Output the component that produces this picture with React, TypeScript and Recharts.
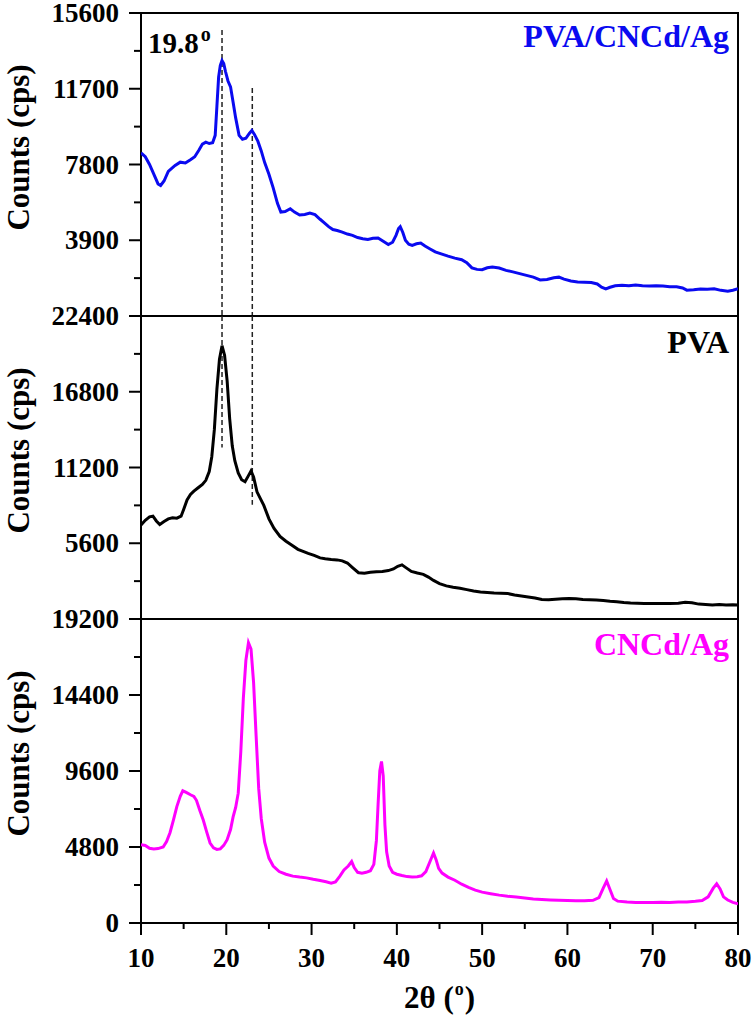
import { LineChart, Line, XAxis, YAxis, ReferenceArea, ReferenceLine, Label } from 'recharts'

const serif = '"Liberation Serif", "Times New Roman", serif'

// PVA/CNCd/Ag (top panel)
const compAngles = [
  10, 10.5, 11, 11.5, 12, 12.3, 12.7, 13.2, 13.6, 14, 14.6, 15.2, 15.8, 16.3, 16.8, 17.2, 17.6, 18, 18.4, 18.7,
  18.9, 19.1, 19.3, 19.5, 19.7, 19.9, 20.2, 20.5, 20.8, 21.1, 21.5, 21.9, 22.3, 22.7, 23, 23.3, 23.7, 24.1, 24.5,
  25, 25.5, 26, 26.4, 26.9, 27.5, 28, 28.6, 29.2, 29.8, 30.4, 31, 31.5, 32, 32.5, 33, 33.6, 34.2, 34.8, 35.4, 36,
  36.6, 37.2, 37.8, 38.4, 39, 39.5, 39.9, 40.2, 40.4, 40.7, 41, 41.4, 41.8, 42.3, 42.8, 43.3, 43.9, 44.5, 45.2, 46,
  46.8, 47.6, 48.2, 48.8, 49.4, 50, 50.6, 51.2, 52, 52.8, 53.6, 54.4, 55.2, 56, 56.8, 57.6, 58.4, 59, 59.6, 60.4,
  61.2, 62, 62.8, 63.5, 64, 64.5, 65, 65.6, 66.4, 67.2, 68, 68.8, 69.6, 70.4, 71.2, 72, 72.8, 73.5, 74, 74.8, 75.6,
  76.4, 77.2, 78, 78.8, 79.4, 80,
]
const compCounts = [
  8400, 8200, 7800, 7300, 6800, 6720, 6950, 7450, 7600, 7750, 7920, 7880, 8050, 8200, 8550, 8850, 8950, 8880, 8920, 9300,
  10800, 12300, 12900, 13150, 13000, 12600, 12100, 11800, 11000, 10200, 9300, 9100, 9150, 9400, 9550, 9350, 9000, 8500, 7900,
  7300, 6600, 5800, 5350, 5380, 5520, 5350, 5200, 5230, 5300, 5220, 4980, 4800, 4600, 4450, 4400, 4320, 4220, 4150, 4040, 3980,
  3940, 4000, 4020, 3850, 3680, 3800, 4150, 4500, 4600, 4300, 3900, 3700, 3640, 3720, 3760, 3600, 3450, 3300, 3200, 3080,
  2980, 2900, 2750, 2480, 2400, 2380, 2480, 2520, 2470, 2350, 2270, 2180, 2090, 2000, 1860, 1880, 1970, 2000, 1900, 1800,
  1750, 1740, 1720, 1650, 1480, 1400, 1480, 1560, 1580, 1560, 1590, 1560, 1550, 1560, 1540, 1510, 1500, 1440, 1330, 1350, 1390,
  1380, 1400, 1320, 1280, 1330, 1400,
]

// PVA (middle panel)
const pvaAngles = [
  10, 10.5, 11, 11.4, 11.8, 12.2, 12.7, 13.2, 13.7, 14.2, 14.7, 15, 15.4, 15.8, 16.2, 16.7, 17.2, 17.6, 18, 18.3,
  18.6, 18.9, 19.2, 19.5, 19.8, 20.1, 20.4, 20.7, 21, 21.4, 21.8, 22.2, 22.6, 22.9, 23.2, 23.6, 24, 24.4, 25, 25.6,
  26.3, 27, 27.7, 28.4, 29, 29.6, 30.3, 31, 31.6, 32.3, 33, 33.6, 34.2, 34.8, 35.5, 36.2, 36.9, 37.6, 38.3, 39, 39.6,
  40.1, 40.6, 41.1, 41.7, 42.4, 43.1, 43.7, 44.3, 45, 45.8, 46.6, 47.4, 48.2, 49, 49.8, 50.6, 51.4, 52.2, 53, 53.8,
  54.6, 55.4, 56.2, 57, 57.8, 58.6, 59.4, 60.2, 61, 61.8, 62.6, 63.4, 64.2, 65, 65.8, 66.6, 67.4, 68.2, 69, 70, 71,
  72, 73, 73.8, 74.6, 75.4, 76.2, 77, 77.8, 78.6, 79.4, 80,
]
const pvaCounts = [
  6950, 7300, 7550, 7600, 7250, 6980, 7200, 7400, 7480, 7450, 7600, 8100, 8800, 9200, 9450, 9700, 9950, 10250, 10900, 12000,
  14000, 17000, 19200, 20200, 19500, 17600, 14800, 12800, 11700, 10800, 10300, 10150, 10600, 10950, 10500, 9400, 8900, 8400, 7400, 6700,
  6100, 5750, 5450, 5150, 5000, 4850, 4700, 4520, 4450, 4400, 4370, 4300, 4140, 3800, 3420, 3380, 3450, 3500, 3520, 3580, 3700,
  3900, 4000, 3780, 3520, 3400, 3300, 3100, 2850, 2620, 2450, 2350, 2270, 2170, 2070, 2000, 1960, 1920, 1900, 1880, 1780,
  1700, 1630, 1550, 1450, 1420, 1460, 1500, 1520, 1490, 1440, 1420, 1400, 1360, 1310, 1280, 1220, 1180, 1160, 1150, 1150, 1140,
  1150, 1170, 1230, 1200, 1100, 1080, 1040, 1080, 1030, 1050, 1040,
]

// CNCd/Ag (bottom panel)
const cncAngles = [
  10, 10.5, 11, 11.5, 12, 12.6, 13, 13.4, 13.8, 14.2, 14.6, 14.9, 15.3, 15.8, 16.2, 16.5, 16.9, 17.3, 17.7, 18.1,
  18.5, 18.9, 19.3, 19.7, 20.1, 20.5, 20.8, 21.1, 21.4, 21.7, 22, 22.3, 22.6, 22.9, 23.2, 23.5, 23.8, 24.1, 24.5, 25,
  25.5, 26.2, 27, 27.8, 28.6, 29.4, 30.2, 31, 31.7, 32.3, 32.8, 33.3, 33.8, 34.3, 34.7, 35, 35.4, 35.9, 36.4, 36.9,
  37.3, 37.6, 37.8, 38, 38.2, 38.4, 38.6, 38.8, 39.1, 39.5, 40, 40.6, 41.2, 41.8, 42.4, 42.9, 43.4, 43.9, 44.3, 44.6,
  44.9, 45.3, 46, 46.8, 47.6, 48.4, 49.2, 50, 51, 52, 53, 54, 55, 56, 57, 58, 59, 60, 61, 62, 63, 63.7, 64.2, 64.6,
  65, 65.4, 65.9, 67, 68, 69, 70, 71, 72, 73, 74, 75, 75.8, 76.5, 77.1, 77.5, 77.9, 78.3, 78.8, 79.4, 80,
]
const cncCounts = [
  4950, 4900, 4720, 4680, 4700, 4800, 5150, 5700, 6500, 7350, 8000, 8350, 8250, 8100, 8000, 7750, 7100, 6500, 5750, 5050,
  4750, 4650, 4680, 4900, 5260, 5900, 6700, 7300, 8200, 10800, 14200, 16600, 17700, 17300, 15200, 11800, 8500, 6600, 5100, 4100,
  3600, 3250, 3080, 2960, 2900, 2850, 2760, 2680, 2600, 2520, 2600, 2950, 3350, 3600, 3880, 3500, 3200, 3150, 3200, 3300,
  3700, 5200, 7500, 9600, 10200, 9300, 6200, 4500, 3600, 3200, 3080, 3000, 2930, 2900, 2920, 2980, 3250, 3900, 4420, 4000,
  3450, 3150, 2900, 2700, 2450, 2250, 2080, 1950, 1850, 1760, 1690, 1640, 1580, 1520, 1480, 1450, 1430, 1420, 1410, 1400, 1430, 1600, 2200, 2650,
  2100, 1550, 1380, 1320, 1300, 1300, 1300, 1310, 1300, 1320, 1330, 1370, 1420, 1650, 2200, 2480, 2150, 1650, 1450, 1300, 1220,
]

const xTicks = [10, 15, 20, 25, 30, 35, 40, 45, 50, 55, 60, 65, 70, 75, 80]
const compTicks = [0, 1950, 3900, 5850, 7800, 9750, 11700, 13650, 15600]
const pvaTicks = [0, 2800, 5600, 8400, 11200, 14000, 16800, 19600, 22400]
const cncTicks = [0, 2400, 4800, 7200, 9600, 12000, 14400, 16800, 19200]

// dashed guides at 19.8° and the 23° shoulder: [angle, from, to]
const compGuides = [[19.5, 14730, 0], [23.05, 11740, 0]]
const pvaGuides = [[19.5, 22400, 12670], [23.05, 22400, 8450]]

const rows = (angles: number[], counts: number[]) => angles.map((t, i) => ({ t, c: counts[i] }))

const yTick = (step: number, hideZero: boolean) => (props: any) => {
  const { x, y, payload } = props
  const v = payload.value
  const major = v % step === 0
  return (
    <g>
      <line x1={x - (major ? 12 : 7)} x2={x} y1={y} y2={y} stroke="#000" strokeWidth={2} />
      {major && !(hideZero && v === 0) && (
        <text x={x - 22} y={y} dy="0.34em" textAnchor="end" fontFamily={serif} fontWeight="bold" fontSize={27} fill="#000">
          {v}
        </text>
      )}
    </g>
  )
}

const xTick = (props: any) => {
  const { x, y, payload } = props
  const v = payload.value
  const major = v % 10 === 0
  return (
    <g>
      <line x1={x} x2={x} y1={y} y2={y + (major ? 12 : 6)} stroke="#000" strokeWidth={2} />
      {major && (
        <text x={x} y={y + 35} dy="0.34em" textAnchor="middle" fontFamily={serif} fontWeight="bold" fontSize={27} fill="#000">
          {v}
        </text>
      )}
    </g>
  )
}

interface PanelProps {
  top: number
  height: number
  marginTop: number
  marginBottom: number
  data: { t: number; c: number }[]
  color: string
  max: number
  ticks: number[]
  step: number
  hideZero: boolean
  name: string
  nameDy: number
  guides?: number[][]
  annotate?: boolean
  showX?: boolean
}

function Panel(p: PanelProps) {
  const labelY = p.marginTop + 303 / 2 - 17
  return (
    <div style={{ position: 'absolute', left: 0, top: p.top }}>
      <LineChart width={756} height={p.height} data={p.data} margin={{ top: p.marginTop, right: 18, bottom: p.marginBottom, left: 0 }}>
        <XAxis
          dataKey="t"
          type="number"
          domain={[10, 80]}
          allowDataOverflow
          ticks={xTicks}
          interval={0}
          hide={!p.showX}
          height={97}
          axisLine={false}
          tickLine={false}
          tickSize={0}
          tickMargin={0}
          tick={xTick}
        >
          {p.showX && (
            <Label
              content={() => (
                <text x={439.5} y={408} textAnchor="middle" fontFamily={serif} fontWeight="bold" fontSize={31} fill="#000">
                  2θ (<tspan fontSize={18} dy={-13} dx={1}>o</tspan>
                  <tspan dy={13} dx={1}>)</tspan>
                </text>
              )}
            />
          )}
        </XAxis>
        <YAxis
          type="number"
          domain={[0, p.max]}
          allowDataOverflow
          ticks={p.ticks}
          interval={0}
          width={141}
          axisLine={false}
          tickLine={false}
          tickSize={0}
          tickMargin={0}
          tick={yTick(p.step, p.hideZero)}
        >
          <Label
            content={() => (
              <text
                transform={`translate(18, ${labelY}) rotate(-90)`}
                dy="0.35em"
                textAnchor="middle"
                fontFamily={serif}
                fontWeight="bold"
                fontSize={31}
                fill="#000"
              >
                Counts (cps)
              </text>
            )}
          />
        </YAxis>
        {(p.guides || []).map((g, i) => (
          <ReferenceLine
            key={i}
            segment={[{ x: g[0], y: g[1] }, { x: g[0], y: g[2] }]}
            stroke="#222"
            strokeWidth={1.5}
            strokeDasharray="5 3"
          />
        ))}
        <Line dataKey="c" type="linear" stroke={p.color} strokeWidth={3} dot={false} isAnimationActive={false} />
        <ReferenceArea x1={10} x2={80} y1={0} y2={p.max} fill="none" stroke="#000" strokeWidth={2}>
          <Label
            content={(lp: any) => {
              const vb = lp.viewBox
              return (
                <g>
                  <text
                    x={vb.x + vb.width - 9}
                    y={vb.y + p.nameDy}
                    textAnchor="end"
                    fontFamily={serif}
                    fontWeight="bold"
                    fontSize={32}
                    fill={p.color}
                  >
                    {p.name}
                  </text>
                  {p.annotate && (
                    <text x={vb.x + 7} y={vb.y + 40} fontFamily={serif} fontWeight="bold" fontSize={29} fill="#000">
                      19.8<tspan fontSize={20} dy={-12} dx={2}>o</tspan>
                    </text>
                  )}
                </g>
              )
            }}
          />
        </ReferenceArea>
      </LineChart>
    </div>
  )
}

export default function App() {
  return (
    <div style={{ position: 'absolute', left: 0, top: 0, width: 756, height: 1020, background: '#fff' }}>
      <Panel
        top={0}
        height={330}
        marginTop={13}
        marginBottom={14}
        data={rows(compAngles, compCounts)}
        color="#0a0af0"
        max={15600}
        ticks={compTicks}
        step={3900}
        hideZero
        name="PVA/CNCd/Ag"
        nameDy={34}
        guides={compGuides}
        annotate
      />
      <Panel
        top={300}
        height={330}
        marginTop={16}
        marginBottom={11}
        data={rows(pvaAngles, pvaCounts)}
        color="#000"
        max={22400}
        ticks={pvaTicks}
        step={5600}
        hideZero
        name="PVA"
        nameDy={37}
        guides={pvaGuides}
      />
      <Panel
        top={600}
        height={420}
        marginTop={19}
        marginBottom={0}
        data={rows(cncAngles, cncCounts)}
        color="#ff00ff"
        max={19200}
        ticks={cncTicks}
        step={4800}
        hideZero={false}
        name="CNCd/Ag"
        nameDy={36}
        showX
      />
    </div>
  )
}
